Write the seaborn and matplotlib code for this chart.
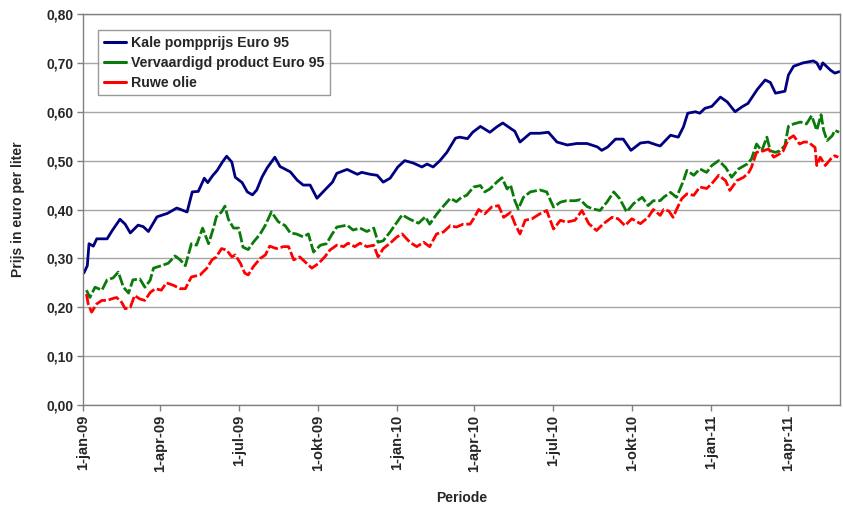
import matplotlib
matplotlib.use("Agg")
import matplotlib.pyplot as plt
import seaborn as sns
import pandas as pd
import numpy as np
from matplotlib.lines import Line2D

# ---------------- data (day offset from 1-jan-2009, price in euro/liter) -------------
start_date = "2009-01-01"

blue_days = [1, 5, 7, 12, 16, 28, 34, 43, 49, 55, 64, 70, 76, 86, 98, 109, 121, 127, 134,
             141, 145, 151, 156, 162, 167, 173, 177, 185, 191, 197, 202, 208, 214, 223, 229,
             241, 249, 256, 264, 272, 279, 290, 295, 307, 319, 324, 334, 342, 349, 357, 366,
             374, 384, 394, 400, 407, 415, 423, 433, 438, 447, 453, 462, 473, 481, 488, 497,
             502, 508, 520, 531, 541, 551, 563, 574, 586, 598, 603, 610, 619, 628, 637, 648,
             657, 667, 671, 683, 692, 698, 703, 712, 717, 723, 731, 741, 749, 758, 766, 773,
             784, 793, 799, 805, 816, 820, 826, 837, 849, 853, 857, 860, 869, 874, 879]
blue_vals = [0.270, 0.285, 0.330, 0.325, 0.340, 0.340, 0.357, 0.380, 0.370, 0.352, 0.368,
             0.365, 0.355, 0.385, 0.392, 0.403, 0.395, 0.436, 0.437, 0.464, 0.455, 0.470,
             0.480, 0.497, 0.509, 0.497, 0.466, 0.455, 0.436, 0.430, 0.440, 0.466, 0.485,
             0.507, 0.488, 0.477, 0.460, 0.450, 0.450, 0.423, 0.436, 0.456, 0.474, 0.482,
             0.472, 0.476, 0.472, 0.470, 0.456, 0.464, 0.487, 0.500, 0.495, 0.487, 0.493,
             0.487, 0.500, 0.517, 0.546, 0.548, 0.545, 0.558, 0.570, 0.558, 0.569, 0.577,
             0.566, 0.560, 0.538, 0.556, 0.556, 0.558, 0.538, 0.532, 0.535, 0.535, 0.528,
             0.521, 0.528, 0.544, 0.544, 0.521, 0.536, 0.538, 0.532, 0.530, 0.552, 0.548,
             0.569, 0.597, 0.600, 0.597, 0.607, 0.611, 0.630, 0.620, 0.600, 0.610, 0.617,
             0.646, 0.665, 0.660, 0.638, 0.642, 0.675, 0.693, 0.700, 0.704, 0.700, 0.687,
             0.700, 0.685, 0.679, 0.682]

green_days = [4, 8, 14, 22, 28, 35, 41, 47, 53, 58, 66, 72, 78, 82, 91, 99, 107, 113, 119,
              126, 132, 139, 146, 152, 155, 161, 165, 169, 175, 181, 186, 192, 198, 206, 212,
              219, 227, 235, 241, 248, 256, 262, 268, 276, 283, 289, 295, 307, 314, 322, 330,
              338, 343, 349, 357, 365, 371, 380, 390, 398, 403, 411, 417, 427, 434, 440, 446,
              454, 462, 467, 473, 481, 487, 493, 497, 502, 506, 512, 520, 531, 539, 547, 555,
              562, 572, 578, 586, 593, 601, 609, 617, 624, 632, 640, 650, 657, 663, 671, 675,
              683, 690, 698, 702, 710, 717, 725, 731, 739, 747, 754, 762, 772, 777, 783, 789,
              795, 799, 805, 810, 816, 820, 826, 834, 841, 847, 853, 858, 861, 865, 871, 874,
              879]
green_vals = [0.235, 0.220, 0.241, 0.235, 0.256, 0.260, 0.272, 0.241, 0.229, 0.256, 0.258,
              0.241, 0.255, 0.280, 0.285, 0.290, 0.305, 0.297, 0.285, 0.330, 0.327, 0.362,
              0.330, 0.364, 0.385, 0.395, 0.407, 0.380, 0.362, 0.362, 0.323, 0.318, 0.333,
              0.350, 0.368, 0.395, 0.375, 0.367, 0.352, 0.350, 0.344, 0.350, 0.313, 0.327,
              0.330, 0.348, 0.364, 0.368, 0.358, 0.362, 0.355, 0.362, 0.333, 0.336, 0.354,
              0.374, 0.389, 0.380, 0.372, 0.385, 0.370, 0.390, 0.403, 0.423, 0.416, 0.425,
              0.429, 0.446, 0.449, 0.436, 0.442, 0.456, 0.465, 0.442, 0.450, 0.418, 0.401,
              0.425, 0.436, 0.440, 0.436, 0.405, 0.415, 0.418, 0.418, 0.420, 0.406, 0.401,
              0.398, 0.415, 0.436, 0.422, 0.395, 0.412, 0.425, 0.408, 0.418, 0.418, 0.425,
              0.435, 0.425, 0.459, 0.480, 0.470, 0.483, 0.476, 0.490, 0.500, 0.486, 0.466,
              0.483, 0.493, 0.503, 0.534, 0.520, 0.548, 0.520, 0.517, 0.520, 0.531, 0.570,
              0.575, 0.579, 0.575, 0.592, 0.562, 0.594, 0.562, 0.541, 0.551, 0.562, 0.558]

red_days = [4, 6, 10, 16, 22, 28, 33, 39, 45, 49, 55, 60, 66, 72, 78, 84, 91, 97, 105, 113,
            119, 126, 136, 144, 150, 155, 161, 167, 173, 177, 183, 188, 192, 198, 206, 212,
            217, 225, 233, 239, 245, 252, 260, 266, 274, 281, 287, 295, 303, 308, 316, 322,
            330, 338, 343, 349, 357, 365, 371, 380, 388, 396, 403, 411, 419, 427, 434, 442,
            450, 454, 460, 467, 475, 483, 489, 497, 502, 508, 514, 522, 531, 539, 547, 555,
            562, 572, 580, 588, 597, 605, 615, 622, 630, 638, 648, 657, 663, 671, 675, 681,
            686, 690, 696, 702, 710, 717, 725, 731, 739, 747, 752, 760, 768, 774, 777, 783,
            791, 797, 803, 809, 814, 820, 826, 833, 838, 843, 851, 853, 857, 863, 869, 874,
            878]
red_vals = [0.227, 0.207, 0.190, 0.207, 0.214, 0.214, 0.217, 0.220, 0.210, 0.197, 0.200,
            0.224, 0.217, 0.214, 0.230, 0.238, 0.235, 0.250, 0.245, 0.238, 0.238, 0.262,
            0.266, 0.280, 0.297, 0.303, 0.320, 0.317, 0.303, 0.307, 0.290, 0.270, 0.266,
            0.283, 0.300, 0.307, 0.325, 0.320, 0.324, 0.324, 0.297, 0.303, 0.290, 0.280,
            0.290, 0.303, 0.317, 0.327, 0.324, 0.331, 0.324, 0.331, 0.324, 0.327, 0.303,
            0.320, 0.331, 0.344, 0.350, 0.333, 0.324, 0.333, 0.324, 0.350, 0.354, 0.367,
            0.364, 0.370, 0.370, 0.381, 0.400, 0.391, 0.405, 0.408, 0.384, 0.394, 0.371,
            0.350, 0.378, 0.381, 0.391, 0.398, 0.360, 0.378, 0.374, 0.378, 0.398, 0.371,
            0.357, 0.371, 0.384, 0.381, 0.367, 0.381, 0.371, 0.384, 0.400, 0.388, 0.400,
            0.397, 0.384, 0.400, 0.422, 0.432, 0.429, 0.446, 0.443, 0.453, 0.470, 0.459,
            0.439, 0.459, 0.466, 0.476, 0.486, 0.517, 0.520, 0.524, 0.507, 0.513, 0.520,
            0.544, 0.551, 0.534, 0.538, 0.538, 0.527, 0.490, 0.507, 0.490, 0.503, 0.510,
            0.507]

series_names = ["Kale pompprijs Euro 95", "Vervaardigd product Euro 95", "Ruwe olie"]
series_colors = ["#000080", "#0a7a0a", "#ff0000"]

tick_dates = ["2009-01-01", "2009-04-01", "2009-07-01", "2009-10-01", "2010-01-01",
              "2010-04-01", "2010-07-01", "2010-10-01", "2011-01-01", "2011-04-01"]
tick_labels = ["1-jan-09", "1-apr-09", "1-jul-09", "1-okt-09", "1-jan-10",
               "1-apr-10", "1-jul-10", "1-okt-10", "1-jan-11", "1-apr-11"]
y_ticks = [0.0, 0.1, 0.2, 0.3, 0.4, 0.5, 0.6, 0.7, 0.8]
y_tick_labels = ["0,00", "0,10", "0,20", "0,30", "0,40", "0,50", "0,60", "0,70", "0,80"]
x_end_day = 880

# ---------------- build frames -------------
t0 = pd.Timestamp(start_date)
def frame(days, vals):
    return pd.DataFrame({"datum": t0 + pd.to_timedelta(days, unit="D"), "prijs": vals})

df_blue = frame(blue_days, blue_vals)
df_green = frame(green_days, green_vals)
df_red = frame(red_days, red_vals)

# ---------------- plot -------------
sns.set_theme(style="white")
plt.rcParams["font.family"] = ["Liberation Sans", "DejaVu Sans"]
plt.rcParams["font.weight"] = "bold"

fig = plt.figure(figsize=(8.43, 5.05), dpi=100)
ax = fig.add_axes([83 / 843, 1 - 405 / 505, (840 - 83) / 843, (405 - 14) / 505])

sns.lineplot(data=df_blue, x="datum", y="prijs", ax=ax, color=series_colors[0],
             linewidth=2.0, legend=False)
sns.lineplot(data=df_green, x="datum", y="prijs", ax=ax, color=series_colors[1],
             linewidth=2.0, legend=False, linestyle=(0, (4, 1)))
sns.lineplot(data=df_red, x="datum", y="prijs", ax=ax, color=series_colors[2],
             linewidth=2.0, legend=False, linestyle=(0, (4, 1)))

ax.set_xlim(t0, t0 + pd.Timedelta(days=x_end_day))
ax.set_ylim(0, 0.8)
ax.set_yticks(y_ticks)
ax.set_yticklabels(y_tick_labels, fontsize=10, fontweight="bold")
ax.set_xticks(pd.to_datetime(tick_dates))
ax.set_xticklabels(tick_labels, rotation=90, fontsize=10.5, fontweight="bold")

ax.yaxis.grid(True, color="#a6a6a6", linewidth=1.0)
ax.xaxis.grid(False)
ax.set_axisbelow(True)
for s in ax.spines.values():
    s.set_color("#808080")
    s.set_linewidth(1.0)
ax.tick_params(axis="both", which="major", direction="out", length=4, width=1,
               color="#808080", bottom=True, left=True, pad=3)

ax.set_xlabel("Periode", fontsize=10, fontweight="bold", labelpad=14)
ax.set_ylabel("Prijs in euro per liter", fontsize=10, fontweight="bold", labelpad=15)

handles = [Line2D([0], [0], color=c, lw=2.2) for c in series_colors]
leg = ax.legend(handles, series_names, loc="upper left",
                bbox_to_anchor=(98 / 843, 1 - 30 / 505), bbox_transform=fig.transFigure,
                borderaxespad=0, frameon=True, fancybox=False, handlelength=1.6,
                handletextpad=0.3, labelspacing=0.42, borderpad=0.4,
                prop={"weight": "bold", "size": 10.2})
leg.get_frame().set_edgecolor("#808080")
leg.get_frame().set_linewidth(1.0)

fig.savefig("out.png", dpi=100)
